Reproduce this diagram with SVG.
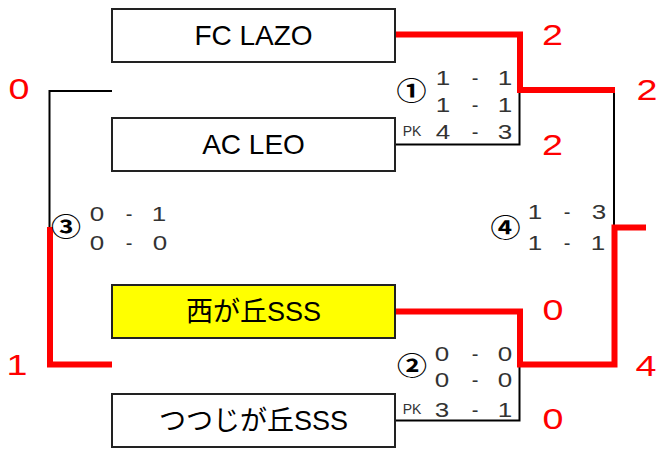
<svg xmlns="http://www.w3.org/2000/svg" width="659" height="451" viewBox="0 0 659 451">
<style>
.box{fill:#fff;stroke:#222;stroke-width:2}
.win{fill:#ffff00}
.name{font-family:"Liberation Sans","Noto Sans CJK JP",sans-serif;font-size:28px;fill:#000;text-anchor:middle}
.jp{font-size:27px}
.blk{fill:none;stroke:#000;stroke-width:2}
.red{fill:none;stroke:#ff0000;stroke-width:6;stroke-linejoin:miter}
.sc{font-family:"Liberation Sans",sans-serif;font-size:20px;fill:#333;text-anchor:middle}
.pk{font-family:"Liberation Sans",sans-serif;font-size:14px;fill:#333;text-anchor:middle}
.cn{font-family:"Noto Sans CJK JP","DejaVu Sans",sans-serif;font-size:25px;font-weight:bold;fill:#000;text-anchor:middle}
.rs{font-family:"Liberation Sans",sans-serif;font-size:29px;fill:#ff0000;text-anchor:middle}
</style>
<rect width="659" height="451" fill="#fff"/>
<g id="connectors">
<path class="blk" d="M395,144.5 H519.5 V90"/>
<path class="blk" d="M395,420.5 H519.5 V364"/>
<path class="blk" d="M614,90 V228"/>
<path class="blk" d="M112,91 H49.5 V228"/>
<path class="red" d="M393,34.5 H520 V90 H615"/>
<path class="red" d="M393,311.5 H520 V364.5 H614.5 V227.5 H646"/>
<path class="red" d="M50,227 V364.5 H112"/>
</g>
<g id="team-fclazo">
<rect class="box" x="112" y="9" width="283" height="53"/>
<text class="name" x="253.5" y="45">FC LAZO</text>
</g>
<g id="team-acleo">
<rect class="box" x="112" y="118" width="283" height="53"/>
<text class="name" x="253.5" y="154">AC LEO</text>
</g>
<g id="team-nishigaoka">
<rect class="box win" x="112" y="285" width="283" height="53"/>
<text class="name jp" x="253.5" y="321">西が丘SSS</text>
</g>
<g id="team-tsutsujigaoka">
<rect class="box" x="112" y="394" width="283" height="53"/>
<text class="name jp" x="253.5" y="430">つつじが丘SSS</text>
</g>
<g id="match1">
<text class="cn" transform="translate(411.5,100) scale(1.2,1)">①</text>
<text class="sc" transform="translate(443,85) scale(1.3,1)">1</text><text class="sc" x="475" y="85">-</text><text class="sc" transform="translate(505,85) scale(1.3,1)">1</text>
<text class="sc" transform="translate(443,112) scale(1.3,1)">1</text><text class="sc" x="475" y="112">-</text><text class="sc" transform="translate(505,112) scale(1.3,1)">1</text>
<text class="pk" x="412" y="136">PK</text>
<text class="sc" transform="translate(443,139) scale(1.3,1)">4</text><text class="sc" x="475" y="139">-</text><text class="sc" transform="translate(505,139) scale(1.3,1)">3</text>
</g>
<g id="match2">
<text class="cn" transform="translate(412,375) scale(1.2,1)">②</text>
<text class="sc" transform="translate(442,361) scale(1.3,1)">0</text><text class="sc" x="475" y="361">-</text><text class="sc" transform="translate(505,361) scale(1.3,1)">0</text>
<text class="sc" transform="translate(442,387) scale(1.3,1)">0</text><text class="sc" x="475" y="387">-</text><text class="sc" transform="translate(505,387) scale(1.3,1)">0</text>
<text class="pk" x="412" y="414">PK</text>
<text class="sc" transform="translate(442,417) scale(1.3,1)">3</text><text class="sc" x="475" y="417">-</text><text class="sc" transform="translate(505,417) scale(1.3,1)">1</text>
</g>
<g id="match3">
<text class="cn" transform="translate(66,236) scale(1.2,1)">③</text>
<text class="sc" transform="translate(97,221) scale(1.3,1)">0</text><text class="sc" x="129" y="221">-</text><text class="sc" transform="translate(159,221) scale(1.3,1)">1</text>
<text class="sc" transform="translate(97,250) scale(1.3,1)">0</text><text class="sc" x="129" y="250">-</text><text class="sc" transform="translate(160,250) scale(1.3,1)">0</text>
</g>
<g id="match4">
<text class="cn" transform="translate(505.5,237) scale(1.2,1)">④</text>
<text class="sc" transform="translate(535,219) scale(1.3,1)">1</text><text class="sc" x="567" y="219">-</text><text class="sc" transform="translate(599,219) scale(1.3,1)">3</text>
<text class="sc" transform="translate(535,250) scale(1.3,1)">1</text><text class="sc" x="567" y="250">-</text><text class="sc" transform="translate(598,250) scale(1.3,1)">1</text>
</g>
<g id="results">
<text class="rs" transform="translate(552.5,45) scale(1.3,1)">2</text>
<text class="rs" transform="translate(647,100) scale(1.3,1)">2</text>
<text class="rs" transform="translate(552.5,155) scale(1.3,1)">2</text>
<text class="rs" transform="translate(553,320) scale(1.3,1)">0</text>
<text class="rs" transform="translate(646,376) scale(1.3,1)">4</text>
<text class="rs" transform="translate(553,429) scale(1.3,1)">0</text>
<text class="rs" transform="translate(19,99) scale(1.3,1)">0</text>
<text class="rs" transform="translate(17,375) scale(1.3,1)">1</text>
</g>
</svg>
